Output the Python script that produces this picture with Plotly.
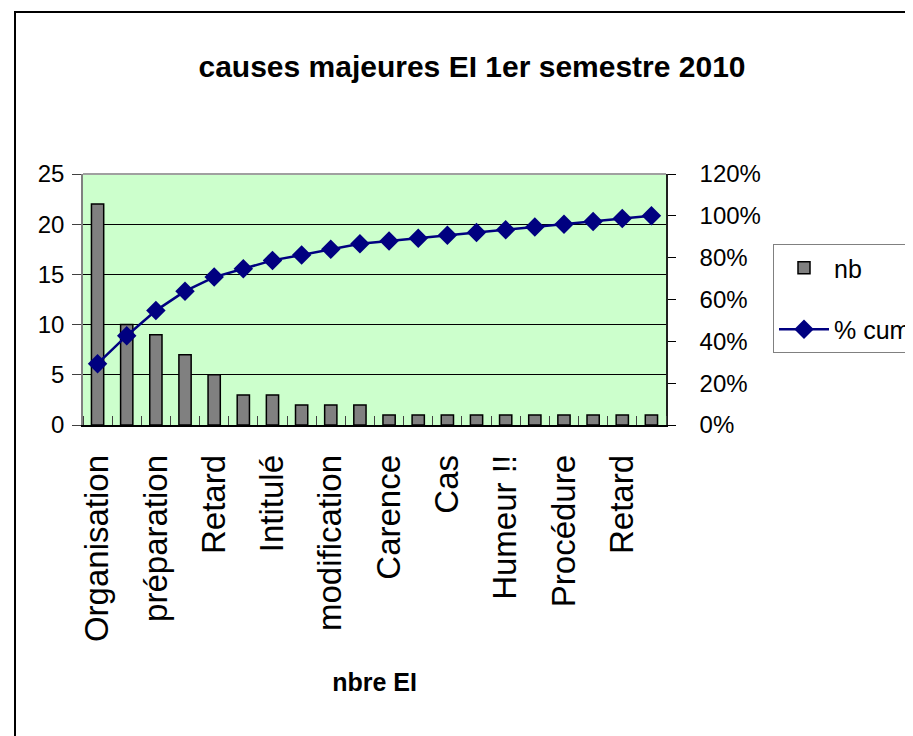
import plotly.graph_objects as go

# ---- data ----
rank = list(range(1, 21))
counts = [22, 10, 9, 7, 5, 3, 3, 2, 2, 2, 1, 1, 1, 1, 1, 1, 1, 1, 1, 1]
pct_cum = [0.293, 0.427, 0.547, 0.640, 0.707, 0.747, 0.787, 0.813, 0.840, 0.867,
           0.880, 0.893, 0.907, 0.920, 0.933, 0.947, 0.960, 0.973, 0.987, 1.000]
shown_labels = ["Organisation", "préparation", "Retard", "Intitulé", "modification",
                "Carence", "Cas", "Humeur !!", "Procédure", "Retard"]
shown_ranks = rank[::2]
left_ticks = [0, 5, 10, 15, 20, 25]
right_ticks = [0, 0.2, 0.4, 0.6, 0.8, 1.0, 1.2]

FONT = "Liberation Sans, Arial, sans-serif"

fig = go.Figure()
fig.add_trace(go.Bar(
    x=rank, y=counts, name="nb", width=0.42,
    marker=dict(color="#808080", line=dict(color="#000000", width=1.5)),
    legendgroup="a",
))
fig.add_trace(go.Scatter(
    x=rank, y=pct_cum, name="% cum", yaxis="y2", mode="lines+markers",
    line=dict(color="#000080", width=2.5),
    marker=dict(symbol="diamond", size=15, color="#000080"),
    legendgroup="b",
))

OFF = 8  # page body offset
W0, W1 = 83 - OFF, 666 - OFF
T0, B0 = 174 - OFF, 425 - OFF
pw, ph = W1 - W0, B0 - T0
FW, FH = 913, 736

fig.update_layout(
    width=FW, height=FH,
    margin=dict(l=W0, r=FW - W1, t=T0, b=FH - B0, autoexpand=False),
    paper_bgcolor="white",
    plot_bgcolor="#CCFFCC",
    title=dict(text="<b>causes majeures EI 1er semestre 2010</b>",
               x=(472 - OFF) / FW, xanchor="center", y=1 - (66 - OFF) / FH, yanchor="middle",
               xref="container", yref="container",
               font=dict(family=FONT, size=30, color="black")),
    showlegend=True,
    legend=dict(x=(773 - OFF - W0) / pw, y=(B0 - (244 - OFF)) / ph, xanchor="left", yanchor="top",
                bgcolor="white", bordercolor="#808080", borderwidth=1,
                font=dict(family=FONT, size=25, color="black"),
                itemwidth=50,
                tracegroupgap=26, traceorder="grouped"),
    xaxis=dict(
        range=[0.5, 20.5], tickmode="array", tickvals=shown_ranks, ticktext=shown_labels,
        tickangle=-90, ticks="", showgrid=False, zeroline=False,
        showline=True, linecolor="#000000", linewidth=1.5,
        tickfont=dict(family=FONT, size=33, color="black"),
        ticklabelstandoff=15,
        minor=dict(tickmode="array", tickvals=[r - 0.5 for r in rank] + [20.5],
                   ticks="inside", ticklen=9, tickcolor="#404040", tickwidth=1, showgrid=False),
        title=dict(text="<b>nbre EI</b>", font=dict(family=FONT, size=25, color="black"),
                   standoff=32),
        automargin=False,
    ),
    yaxis=dict(
        range=[0, 25], tickmode="array", tickvals=left_ticks,
        ticks="outside", ticklen=9, tickcolor="#404040",
        showgrid=True, gridcolor="#000000", gridwidth=1, zeroline=False,
        showline=True, linecolor="#808080", linewidth=1.5,
        tickfont=dict(family=FONT, size=24, color="black"),
        ticklabelstandoff=3,
        automargin=False,
    ),
    yaxis2=dict(
        range=[0, 1.2], tickmode="array", tickvals=right_ticks, tickformat=".0%",
        overlaying="y", side="right", ticks="outside", ticklen=8, tickcolor="#000000",
        showgrid=False, zeroline=False, showline=True, linecolor="#202020", linewidth=1.5,
        tickfont=dict(family=FONT, size=24, color="black"),
        ticklabelstandoff=19,
        automargin=False,
    ),
    yaxis3=dict(
        range=[0, 1.2], tickmode="array", tickvals=right_ticks, overlaying="y", side="right",
        ticks="inside", ticklen=8, tickcolor="#000000", showticklabels=False,
        showgrid=False, zeroline=False, showline=False, automargin=False,
    ),
    shapes=[
        dict(type="line", xref="paper", yref="paper", x0=0, x1=1, y0=1, y1=1,
             line=dict(color="#A0A0A0", width=2)),
        dict(type="rect", xref="paper", yref="paper",
             x0=(15 - OFF - W0) / pw, x1=(1000 - W0) / pw,
             y0=(B0 - 800) / ph, y1=(B0 - (12 - OFF)) / ph,
             line=dict(color="black", width=2), fillcolor="rgba(0,0,0,0)"),
    ],
)

fig.write_html("out.html")
